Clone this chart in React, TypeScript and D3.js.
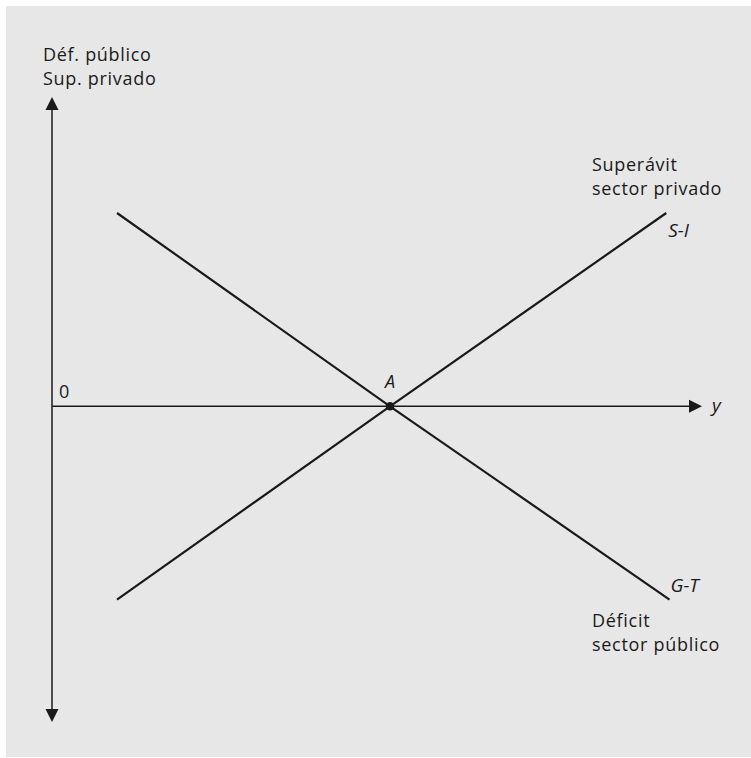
import React from "react";
import * as d3 from "d3";

// Data (abstract units): income on x, balance on y
const xDomain = [0, 10];
const yDomain = [-4.9, 4.8];
const pointA = { x: 5.2, y: 0 };
const lineGT = [
  { x: 1.0, y: 3.0 },
  { x: 5.2, y: 0 },
  { x: 9.5, y: -3.0 },
];
const lineSI = [
  { x: 1.0, y: -3.0 },
  { x: 5.2, y: 0 },
  { x: 9.45, y: 3.0 },
];
const yAxisTitle = ["Déf. público", "Sup. privado"];
const siLabel = ["Superávit", "sector privado"];
const gtLabel = ["Déficit", "sector público"];

const W = 751;
const H = 758;
const FONT = "'Open Sans', 'Noto Sans', sans-serif";
const INK = "#1a1a1a";

export default function App() {
  const x = d3.scaleLinear().domain(xDomain).range([52, 702]);
  const y = d3.scaleLinear().domain(yDomain).range([722, 97]);
  const line = d3
    .line<{ x: number; y: number }>()
    .x((d) => x(d.x))
    .y((d) => y(d.y));

  const x0 = x(0);
  const y0 = y(0);
  const yTop = y(yDomain[1]);
  const yBot = y(yDomain[0]);
  const xRight = x(xDomain[1]);
  const ah = 13; // arrow length
  const aw = 6.5; // arrow half-width

  const gtEnd = lineGT[lineGT.length - 1];
  const siEnd = lineSI[lineSI.length - 1];
  const ls = 0.7;

  return (
    <svg
      width={W}
      height={H}
      style={{ position: "absolute", left: 0, top: 0 }}
      fontFamily={FONT}
    >
      <rect x={0} y={0} width={W} height={H} fill="#ffffff" />
      <rect x={6} y={6} width={745} height={751} fill="#e7e7e7" />

      {/* Axes */}
      <line x1={x0} x2={x0} y1={yTop + ah - 1} y2={yBot - ah + 1} stroke={INK} strokeWidth={1.5} />
      <path d={`M${x0},${yTop} L${x0 - aw},${yTop + ah} L${x0 + aw},${yTop + ah} Z`} fill={INK} />
      <path d={`M${x0},${yBot} L${x0 - aw},${yBot - ah} L${x0 + aw},${yBot - ah} Z`} fill={INK} />
      <line x1={x0} x2={xRight - ah + 1} y1={y0} y2={y0} stroke={INK} strokeWidth={1.5} />
      <path d={`M${xRight},${y0} L${xRight - ah},${y0 - aw} L${xRight - ah},${y0 + aw} Z`} fill={INK} />

      {/* Curves */}
      <path d={line(lineGT) || ""} fill="none" stroke={INK} strokeWidth={2.2} />
      <path d={line(lineSI) || ""} fill="none" stroke={INK} strokeWidth={2.2} />
      <circle cx={x(pointA.x)} cy={y(pointA.y)} r={4.3} fill={INK} />

      {/* Labels */}
      <g fill={INK} fontSize={18}>
        <text x={43} y={61} letterSpacing={ls}>{yAxisTitle[0]}</text>
        <text x={43} y={85} letterSpacing={ls}>{yAxisTitle[1]}</text>
        <text x={59} y={398} fontSize={18}>0</text>
        <text x={x(pointA.x) - 5} y={388} fontStyle="italic" fontSize={18}>A</text>
        <text x={xRight + 10} y={412} fontStyle="italic" fontSize={19}>y</text>
        <text x={592} y={171} letterSpacing={ls}>{siLabel[0]}</text>
        <text x={592} y={195} letterSpacing={ls}>{siLabel[1]}</text>
        <text x={x(siEnd.x) + 2} y={237} fontStyle="italic" fontSize={19}>S-I</text>
        <text x={x(gtEnd.x) + 1} y={592} fontStyle="italic" fontSize={19}>G-T</text>
        <text x={592} y={627} letterSpacing={ls}>{gtLabel[0]}</text>
        <text x={592} y={651} letterSpacing={ls}>{gtLabel[1]}</text>
      </g>
    </svg>
  );
}
